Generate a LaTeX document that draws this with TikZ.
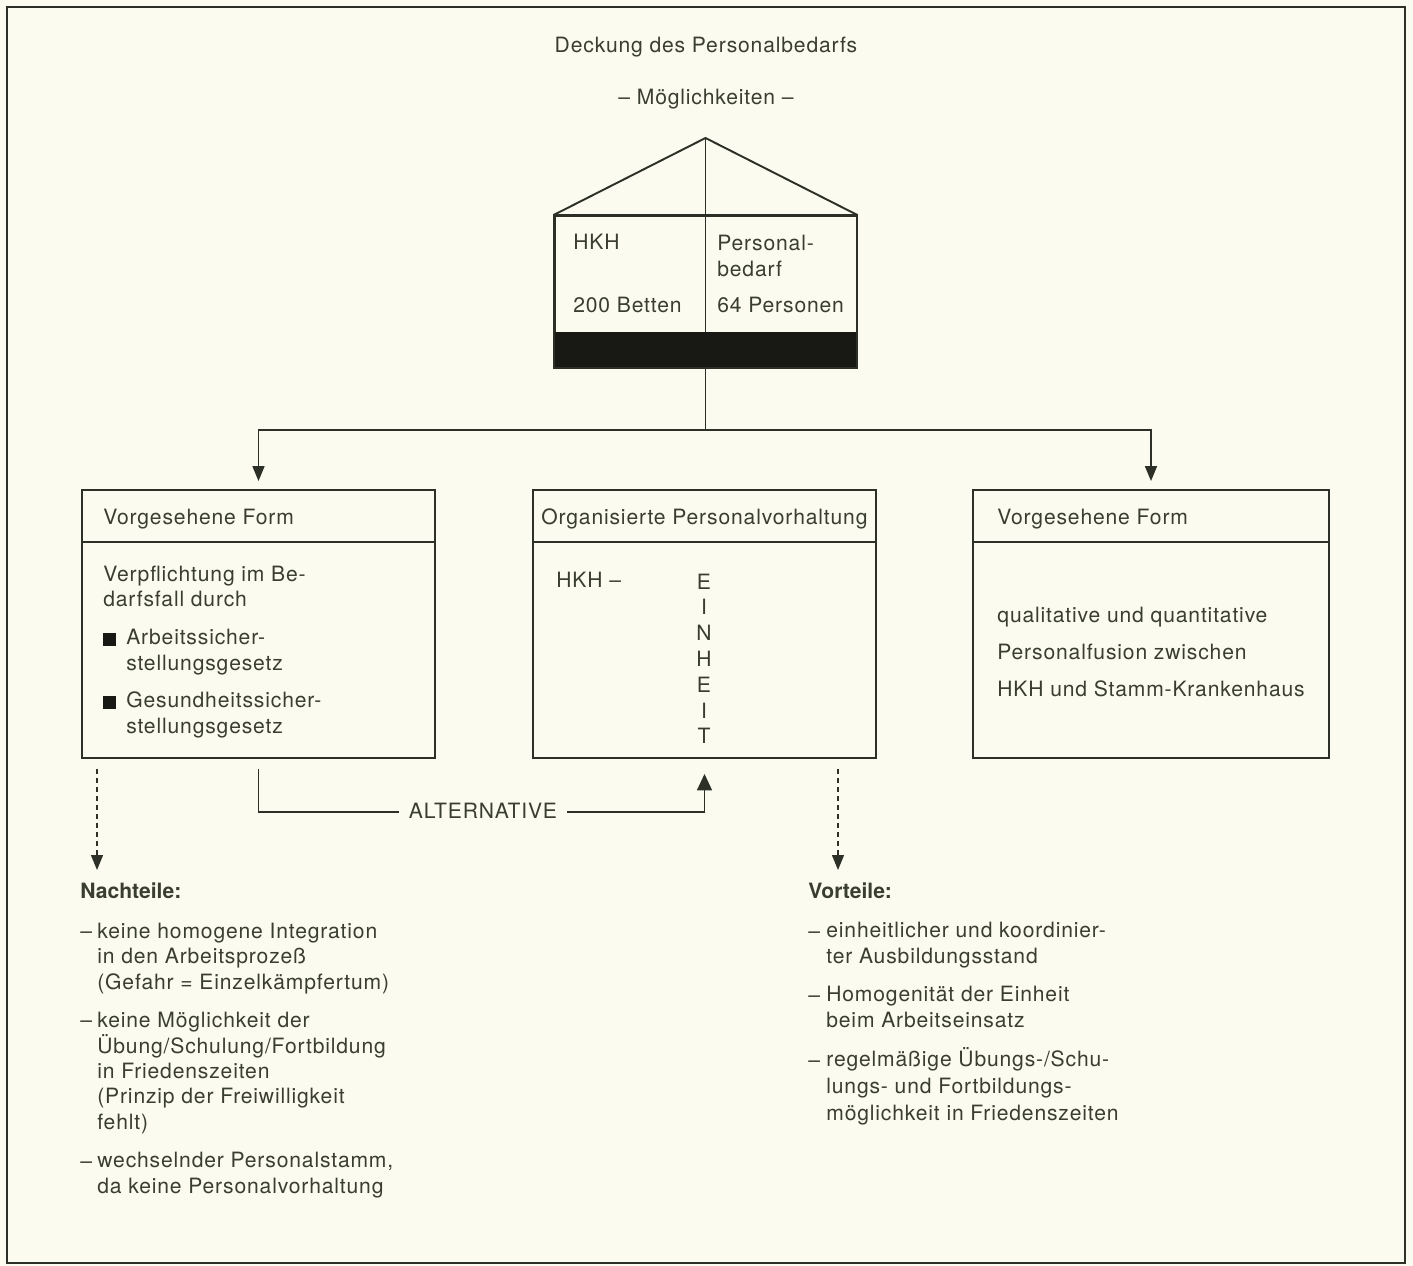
\documentclass[tikz,border=0pt]{standalone}
\usepackage{fontspec}
\setmainfont{TeX Gyre Heros}[LetterSpace=4, BoldFeatures={LetterSpace=0}]
\usepackage{xcolor}
\usetikzlibrary{positioning, arrows.meta}
\definecolor{papier}{RGB}{251,251,239}
\definecolor{tinte}{RGB}{58,62,48}
\definecolor{strich}{RGB}{44,48,38}
\definecolor{balken}{RGB}{24,24,21}
\tikzset{
    box/.style={draw=strich, line width=1.1pt, rectangle, inner sep=0pt},
    txt/.style={text=tinte, font=\fontsize{12}{14.4}\selectfont, inner sep=0pt, align=left, anchor=base west},
    fett/.style={font=\bfseries\fontsize{12}{14.4}\selectfont},
    link/.style={-{Triangle[length=3mm, width=2.4mm]}, line width=0.95pt, draw=strich},
    dashlink/.style={-{Triangle[length=3mm, width=2.4mm]}, line width=0.8pt, draw=strich, dash pattern=on 1mm off 0.8mm}
}

\begin{document}
\begin{tikzpicture}[x=0.02cm, y=-0.02cm]

% --- Blatt und Rahmen ---
\fill[papier] (0,0) rectangle (1413,1266);
\useasboundingbox (0,0) rectangle (1413,1266);
\draw[strich, line width=1.3pt] (7,7) rectangle (1405,1263);

% --- Titel ---
\node[txt, anchor=base] (titel) at (706,53) {Deckung des Personalbedarfs};
\node[txt, anchor=base] (untertitel) at (706,105) {– Möglichkeiten –};

% --- Haus (HKH) ---
\node[box, minimum width=6.04cm, minimum height=3.02cm] (haus) at (705.5,291.5) {};
\coordinate (first) at (705.5,138);
\fill[balken] (haus.south west) rectangle ([yshift=0.72cm]haus.south east);
\draw[strich, line width=1.1pt] (haus.north west) -- (first) -- (haus.north east);
\draw[strich, line width=1.1pt] (first) -- ([yshift=0.72cm]haus.south);
\draw[strich, line width=1.1pt] (haus.south west) rectangle (haus.north east);

% (bei mehrzeiligen Knoten liegt base auf der letzten Zeile)
\node[txt] (hkh) at (573,250) {HKH};
\node[txt] (betten) at (573,313) {200 Betten};
\node[txt, font=\fontsize{12}{15.3}\selectfont] (bedarf) at (717,277) {Personal-\\bedarf};
\node[txt] (personen) at (717,313) {64 Personen};

% --- Drei Kaesten ---
\node[box, minimum width=7.06cm, minimum height=5.36cm] (links) at (258.5,624) {};
\node[box, minimum width=6.86cm, minimum height=5.36cm] (mitte) at (704.5,624) {};
\node[box, minimum width=7.12cm, minimum height=5.36cm] (rechts) at (1151,624) {};
\foreach \b in {links, mitte, rechts}
  \draw[strich, line width=1.1pt] ([yshift=-1.06cm]\b.north west) -- ([yshift=-1.06cm]\b.north east);

% --- Verteilung vom Haus ---
\coordinate (verteiler) at (705.5,430);
\draw[strich, line width=0.95pt] (haus.south) -- (verteiler);
\draw[link, shorten >=1.6mm] (verteiler) -| (links.north);
\draw[link, shorten >=1.6mm] (verteiler) -| (rechts.north);

% --- Kopfzeilen ---
\node[txt] (kopf1) at (103,525) {Vorgesehene Form};
\node[txt, anchor=base] (kopf2) at (704.5,525) {Organisierte Personalvorhaltung};
\node[txt] (kopf3) at (997,525) {Vorgesehene Form};

% --- Inhalt links ---
\node[txt] (pflicht) at (103,607) {Verpflichtung im Be-\\darfsfall durch};
\node[txt, text=balken] (punkt1) at (103,646) {\rule{2.6mm}{2.6mm}};
\node[txt] (gesetz1) at (126,670) {Arbeitssicher-\\stellungsgesetz};
\node[txt, text=balken] (punkt2) at (103,709) {\rule{2.6mm}{2.6mm}};
\node[txt] (gesetz2) at (126,733) {Gesundheitssicher-\\stellungsgesetz};

% --- Inhalt Mitte ---
\node[txt] (hkh2) at (556,588) {HKH –};
\node[txt, anchor=base, align=center, font=\fontsize{12}{14.7}\selectfont] (einheit) at (704,744) {E\\I\\N\\H\\E\\I\\T};

% --- Inhalt rechts ---
\node[txt, font=\fontsize{12}{21.3}\selectfont] (fusion) at (997,697) {qualitative und quantitative\\Personalfusion zwischen\\HKH und Stamm-Krankenhaus};

% --- Alternative ---
\coordinate (altmitte) at (483,812);
\draw[link, -{Triangle[length=3.3mm, width=3mm]}, shorten <=2mm, shorten >=3mm] (links.south) |- (altmitte) -| (mitte.south);
\node[txt, anchor=base, fill=papier, inner xsep=0.2cm, inner ysep=2pt] (alt) at (483,818) {ALTERNATIVE};

% --- Gestrichelte Pfeile ---
\coordinate (nachspitze) at (97,870);
\coordinate (vorspitze) at (838,870);
\draw[dashlink, shorten <=2mm] (links.south -| nachspitze) -- (nachspitze);
\draw[dashlink, shorten <=2mm] (mitte.south -| vorspitze) -- (vorspitze);

% --- Nachteile ---
\node[txt, fett] (nachteile) at (80,898) {Nachteile:};
\node[txt] (n1s) at (80,938) {–};
\node[txt] (n1) at (97,989) {keine homogene Integration\\in den Arbeitsprozeß\\(Gefahr = Einzelkämpfertum)};
\node[txt] (n2s) at (80,1027) {–};
\node[txt] (n2) at (97,1129) {keine Möglichkeit der\\Übung/Schulung/Fortbildung\\in Friedenszeiten\\(Prinzip der Freiwilligkeit\\fehlt)};
\node[txt] (n3s) at (80,1168) {–};
\node[txt] (n3) at (97,1193) {wechselnder Personalstamm,\\da keine Personalvorhaltung};

% --- Vorteile ---
\node[txt, fett] (vorteile) at (808,898) {Vorteile:};
\node[txt] (v1s) at (808,938) {–};
\node[txt] (v1) at (826,963) {einheitlicher und koordinier-\\ter Ausbildungsstand};
\node[txt] (v2s) at (808,1002) {–};
\node[txt] (v2) at (826,1027) {Homogenität der Einheit\\beim Arbeitseinsatz};
\node[txt] (v3s) at (808,1067) {–};
\node[txt, font=\fontsize{12}{15.1}\selectfont] (v3) at (826,1120) {regelmäßige Übungs-/Schu-\\lungs- und Fortbildungs-\\möglichkeit in Friedenszeiten};

\end{tikzpicture}
\end{document}
